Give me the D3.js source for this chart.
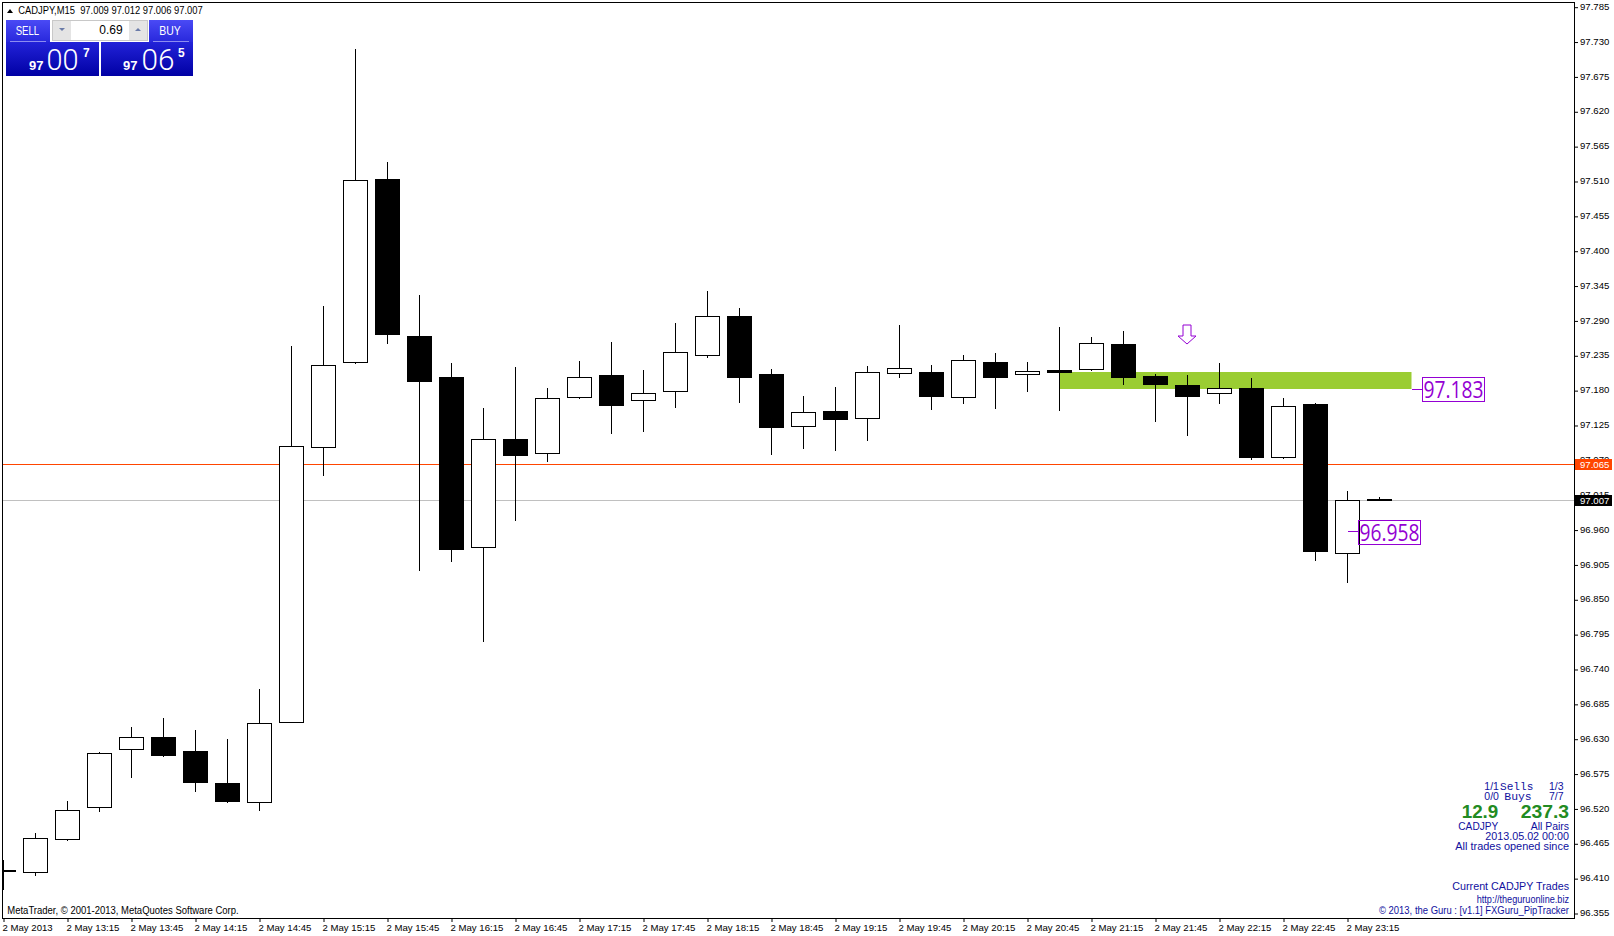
<!DOCTYPE html>
<html><head><meta charset="utf-8">
<style>html,body{margin:0;padding:0;background:#fff}svg{display:block}
text{font-family:"Liberation Sans",sans-serif}</style>
<script src="https://cdn.jsdelivr.net/npm/d3@7"></script></head>
<body><svg id="c" width="1614" height="936"></svg>
<script>
const opens =[96.423,96.419,96.471,96.521,96.613,96.633,96.611,96.561,96.530,96.655,97.090,97.223,97.514,97.266,97.202,96.932,97.104,97.080,97.168,97.205,97.164,97.178,97.235,97.298,97.206,97.123,97.148,97.135,97.206,97.209,97.169,97.225,97.204,97.213,97.212,97.254,97.203,97.189,97.174,97.184,97.074,97.159,96.923,97.009];
const highs =[96.439,96.482,96.532,96.610,96.649,96.663,96.645,96.630,96.709,97.250,97.314,97.719,97.541,97.331,97.224,97.153,97.217,97.184,97.227,97.257,97.213,97.287,97.337,97.310,97.214,97.172,97.186,97.219,97.284,97.220,97.236,97.239,97.225,97.280,97.265,97.274,97.206,97.205,97.224,97.200,97.168,97.161,97.022,97.012];
const lows  =[96.392,96.414,96.470,96.515,96.569,96.602,96.547,96.529,96.517,96.655,97.045,97.222,97.253,96.896,96.910,96.783,96.974,97.067,97.167,97.112,97.115,97.153,97.232,97.161,97.078,97.088,97.085,97.101,97.200,97.149,97.159,97.151,97.178,97.148,97.211,97.189,97.131,97.108,97.159,97.071,97.072,96.911,96.876,97.006];
const closes=[96.420,96.474,96.518,96.609,96.633,96.603,96.561,96.531,96.655,97.092,97.220,97.512,97.268,97.193,96.929,97.103,97.077,97.168,97.201,97.156,97.176,97.241,97.297,97.200,97.121,97.146,97.134,97.209,97.215,97.170,97.228,97.200,97.211,97.208,97.255,97.200,97.189,97.170,97.184,97.074,97.155,96.925,97.007,97.007];
const priceTicks=[97.785,97.730,97.675,97.620,97.565,97.510,97.455,97.400,97.345,97.290,97.235,97.180,97.125,97.070,97.015,96.960,96.905,96.850,96.795,96.740,96.685,96.630,96.575,96.520,96.465,96.410,96.355];
const timeLabels=["2 May 2013","2 May 13:15","2 May 13:45","2 May 14:15","2 May 14:45","2 May 15:15","2 May 15:45","2 May 16:15","2 May 16:45","2 May 17:15","2 May 17:45","2 May 18:15","2 May 18:45","2 May 19:15","2 May 19:45","2 May 20:15","2 May 20:45","2 May 21:15","2 May 21:45","2 May 22:15","2 May 22:45","2 May 23:15"];
const askPrice=97.065, bidPrice=97.007;
const zoneTop=97.210, zoneBottom=97.183, zoneStartBar=33, zoneEndBar=44;
const arrowBar=37, arrowPrice=97.253;
const tagA={price:97.183,text:"97.183"}, tagB={price:96.958,text:"96.958"};

const PL=2.5,PR=1574.5,PT=2.5,PB=918.5;
const svg=d3.select("#c");
const x=d3.scaleLinear().domain([0,43]).range([3.5,1379.5]);
const y=d3.scaleLinear().domain([96.355,97.785]).range([913.5,7.2]);
const py=p=>Math.round(y(p))+.5;
const defs=svg.append("defs");
defs.append("clipPath").attr("id","plot").append("rect").attr("x",PL).attr("y",PT).attr("width",PR-PL).attr("height",PB-PT);
const g1=defs.append("linearGradient").attr("id","gTop").attr("x1",0).attr("x2",0).attr("y1",0).attr("y2",1);
g1.append("stop").attr("offset",0).attr("stop-color","#4a4af5");g1.append("stop").attr("offset",1).attr("stop-color","#2828dc");
const g2=defs.append("linearGradient").attr("id","gBot").attr("x1",0).attr("x2",0).attr("y1",0).attr("y2",1);
g2.append("stop").attr("offset",0).attr("stop-color","#2222d8");g2.append("stop").attr("offset",1).attr("stop-color","#0000a4");

function txt(s,px,py_,o={}){
  const t=svg.append("text").attr("x",px).attr("y",py_).text(s)
    .attr("font-size",o.size||11).attr("fill",o.fill||"#000").attr("text-anchor",o.anchor||"start");
  if(o.weight)t.attr("font-weight",o.weight);
  if(o.family)t.style("font-family",o.family);
  if(o.len)t.attr("textLength",o.len).attr("lengthAdjust","spacingAndGlyphs");
  return t;
}

const plot=svg.append("g").attr("clip-path","url(#plot)");
plot.append("rect").attr("x",x(zoneStartBar)).attr("width",x(zoneEndBar)-x(zoneStartBar))
  .attr("y",Math.round(y(zoneTop))).attr("height",Math.round(y(zoneBottom))-Math.round(y(zoneTop))).attr("fill","#9ACD32");
plot.append("line").attr("x1",PL).attr("x2",PR).attr("y1",py(askPrice)).attr("y2",py(askPrice)).attr("stroke","#FF4500");
plot.append("line").attr("x1",PL).attr("x2",PR).attr("y1",py(bidPrice)).attr("y2",py(bidPrice)).attr("stroke","#C0C0C0");
const idx=d3.range(opens.length);
const cg=plot.append("g").attr("shape-rendering","crispEdges");
cg.selectAll("line").data(idx).join("line")
  .attr("x1",i=>x(i)).attr("x2",i=>x(i)).attr("y1",i=>Math.round(y(highs[i]))).attr("y2",i=>Math.round(y(lows[i]))).attr("stroke","#000");
const bTop=i=>py(Math.max(opens[i],closes[i]));
const bBot=i=>Math.round(y(Math.min(opens[i],closes[i])))-.5;
cg.selectAll("rect").data(idx).join("rect")
  .attr("x",i=>x(i)-12).attr("width",24)
  .attr("y",bTop)
  .attr("height",i=>Math.max(1,bBot(i)-bTop(i)))
  .attr("fill",i=>closes[i]>=opens[i]?"#fff":"#000").attr("stroke","#000");

const V="#9400D3";
function tag(t,bx,by,bw,bh,tx,tl){
  const cy=py(t.price);
  svg.append("line").attr("x1",bx-10).attr("x2",bx).attr("y1",cy).attr("y2",cy).attr("stroke",V);
  svg.append("rect").attr("x",bx+.5).attr("y",by+.5).attr("width",bw).attr("height",bh).attr("fill","none").attr("stroke",V);
  txt(t.text,tx,by+21,{size:24,fill:V,len:tl,family:'"Open Sans",sans-serif'});
}
tag(tagA,1422,377,62,24,1423.5,60);
tag(tagB,1358,520,62,24,1359.5,60);
const ax=x(arrowBar)-.5, ay=Math.round(y(arrowPrice));
svg.append("path").attr("d",`M${ax-4},${ay-19}H${ax+4}V${ay-8}H${ax+9}L${ax},${ay}L${ax-9},${ay-8}H${ax-4}Z`)
  .attr("fill","#fff").attr("stroke",V).attr("stroke-width",1);

svg.append("rect").attr("x",PL).attr("y",PT).attr("width",PR-PL).attr("height",PB-PT).attr("fill","none").attr("stroke","#000").attr("shape-rendering","crispEdges");

const ay1=svg.append("g").attr("transform",`translate(${PR-.5},0)`)
  .call(d3.axisRight(y).tickValues(priceTicks).tickFormat(d3.format(".3f")).tickSize(4).tickPadding(2));
ay1.select(".domain").remove();
ay1.selectAll("text").attr("font-size",9.6).attr("fill","#000").attr("dy","0.22em").style("font-family",'"Liberation Sans",sans-serif');
ay1.selectAll("line").attr("stroke","#000");
const tickIdx=timeLabels.map((_,k)=>k*2);
const ax1=svg.append("g").attr("transform",`translate(0,${PB-.5})`)
  .call(d3.axisBottom(x).tickValues(tickIdx).tickFormat((d,k)=>timeLabels[k]).tickSize(4).tickPadding(2));
ax1.select(".domain").remove();
ax1.selectAll("text").attr("font-size",9.6).attr("fill","#000").attr("text-anchor","start").attr("dx",-1.5).style("font-family",'"Liberation Sans",sans-serif');
ax1.selectAll("line").attr("stroke","#000");

function pbox(p,col){
  const c=py(p);
  svg.append("rect").attr("x",1575).attr("y",c-5.5).attr("width",37).attr("height",11).attr("fill",col);
  txt(d3.format(".3f")(p),1580,c+3.5,{size:9.6,fill:"#fff"});
}
pbox(askPrice,"#FF4500");
pbox(bidPrice,"#000");

svg.append("path").attr("d","M7,13L10,9L13,13Z").attr("fill","#000");
txt("CADJPY,M15  97.009 97.012 97.006 97.007",18.3,13.7,{size:10,len:184.4}).style("white-space","pre");
txt("MetaTrader, © 2001-2013, MetaQuotes Software Corp.",7.3,914,{size:10,len:231.4});

const W="#fff";
svg.append("rect").attr("x",6).attr("y",20).attr("width",93).attr("height",22).attr("fill","url(#gTop)");
svg.append("rect").attr("x",101).attr("y",20).attr("width",92).attr("height",22).attr("fill","url(#gTop)");
svg.append("rect").attr("x",6).attr("y",42).attr("width",93).attr("height",34).attr("fill","url(#gBot)");
svg.append("rect").attr("x",101).attr("y",42).attr("width",92).attr("height",34).attr("fill","url(#gBot)");
svg.append("rect").attr("x",50).attr("y",19).attr("width",99).attr("height",23).attr("fill","#fff");
svg.append("rect").attr("x",52.5).attr("y",20.5).attr("width",95).attr("height",20).attr("fill","#fff").attr("stroke","#c8c8c8");
svg.append("rect").attr("x",53).attr("y",21).attr("width",18).attr("height",19).attr("fill","#e4e4e4");
svg.append("rect").attr("x",129).attr("y",21).attr("width",18).attr("height",19).attr("fill","#e4e4e4");
svg.append("path").attr("d","M59,28H65L62,31Z").attr("fill","#6a7ba8");
svg.append("path").attr("d","M135,31H141L138,28Z").attr("fill","#6a7ba8");
svg.append("line").attr("x1",10).attr("x2",46).attr("y1",41.5).attr("y2",41.5).attr("stroke","#8c8cf0");
svg.append("line").attr("x1",153).attr("x2",189).attr("y1",41.5).attr("y2",41.5).attr("stroke","#8c8cf0");
txt("SELL",15.7,35,{size:13,fill:W,len:23.5});
txt("BUY",159.3,35,{size:13,fill:W,len:21.5});
txt("0.69",122.7,34,{size:12,anchor:"end"});
txt("97",29,69.5,{size:13,fill:W,weight:"bold"});
txt("00",46.5,70,{size:29,fill:W,len:32,family:"Roboto,sans-serif"}).attr("font-weight",300);
txt("7",83,57,{size:12,fill:W,weight:"bold"});
txt("97",123,69.5,{size:13,fill:W,weight:"bold"});
txt("06",141.5,70,{size:29,fill:W,len:33,family:"Roboto,sans-serif"}).attr("font-weight",300);
txt("5",178,57,{size:12,fill:W,weight:"bold"});

const B="#10109e",G="#228B22",M='"Liberation Mono",monospace';
txt("1/1",1484.3,790,{size:10.5,fill:B});
txt("Sells",1500,790,{size:11,fill:B,family:M,len:33.3});
txt("1/3",1563.5,790,{size:10.5,fill:B,anchor:"end"});
txt("0/0",1484.3,800,{size:10.5,fill:B});
txt("Buys",1504.3,800,{size:11,fill:B,family:M,len:27.4});
txt("7/7",1563.5,800,{size:10.5,fill:B,anchor:"end"});
txt("12.9",1461.7,818.3,{size:17.5,fill:G,weight:"bold",len:36.6});
txt("237.3",1520.7,818.3,{size:17.5,fill:G,weight:"bold",len:48.4});
txt("CADJPY",1458.3,830,{size:11,fill:B,len:40});
txt("All Pairs",1530.7,830,{size:11,fill:B,len:38.4});
txt("2013.05.02 00:00",1485.3,840,{size:11,fill:B,len:83.7});
txt("All trades opened since",1455.3,850,{size:11,fill:B,len:113.7});
txt("Current CADJPY Trades",1452.3,890,{size:11,fill:B,len:116.7});
txt("http://theguruonline.biz",1476.7,903,{size:10,fill:B,len:92.3});
txt("© 2013, the Guru : [v1.1] FXGuru_PipTracker",1379,913.7,{size:10,fill:B,len:190});
</script></body></html>
